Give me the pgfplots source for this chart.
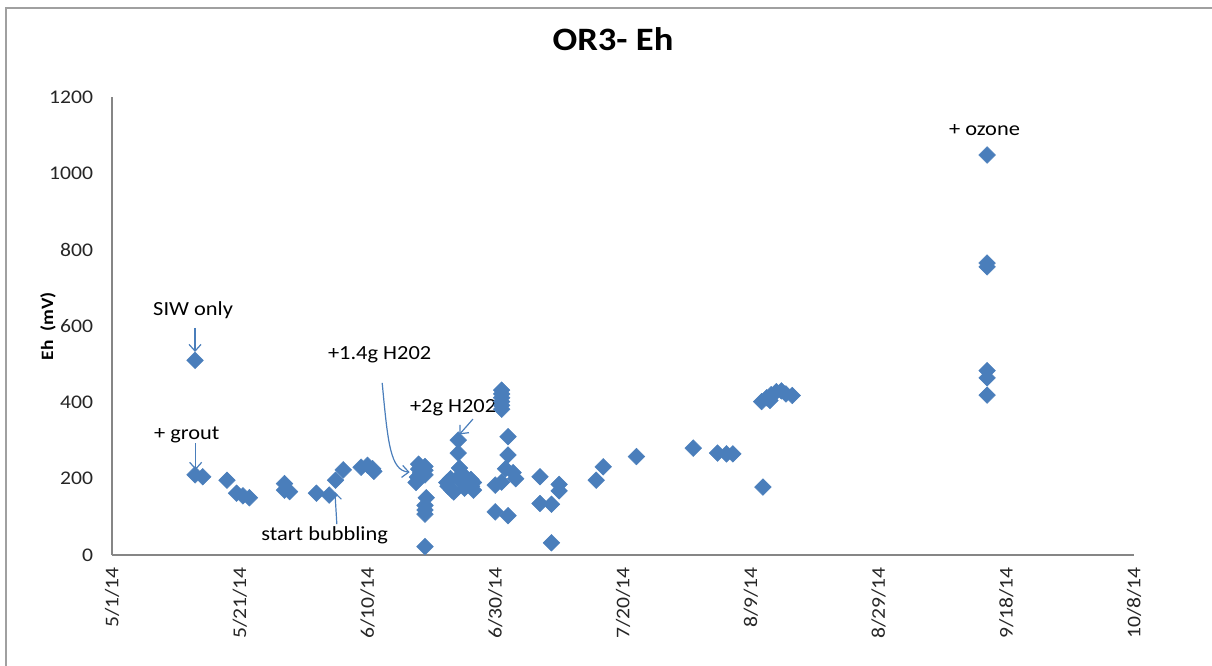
\documentclass[border=0pt]{standalone}
\usepackage{fontspec}
\setmainfont{Carlito}[FakeStretch=1.12]
\usepackage{pgfplots}
\pgfplotsset{compat=1.18}
\usetikzlibrary{arrows.meta}
\definecolor{ptblue}{HTML}{4A7EBB}
\definecolor{axgray}{HTML}{868686}
\definecolor{framegray}{HTML}{A0A0A0}
\begin{document}
\begin{tikzpicture}
\useasboundingbox (-84pt,-82.5pt) rectangle (825pt,416.25pt);
\draw[framegray, line width=1.5pt] (-79.5pt,-90pt) -- (-79.5pt,410.25pt) -- (830pt,410.25pt);
\begin{axis}[
  at={(0pt,0pt)}, anchor=south west,
  scale only axis,
  width=766.5pt, height=343.5pt,
  xmin=0, xmax=160, ymin=0, ymax=1200,
  axis x line=bottom, axis y line=left,
  axis line style={-, axgray, line width=1pt},
  major tick length=0pt,
  xtick={0,20,40,60,80,100,120,140,160},
  xticklabels={5/1/14,5/21/14,6/10/14,6/30/14,7/20/14,8/9/14,8/29/14,9/18/14,10/8/14},
  ytick={0,200,400,600,800,1000,1200},
  /pgf/number format/assume math mode=true,
  /pgf/number format/1000 sep={},
  ticklabel style={font=\fontsize{14.5}{16}\selectfont, text=black!85},
  xticklabel style={yshift=-9pt, rotate=90, anchor=east, inner sep=0pt},
  yticklabel style={xshift=-14pt, anchor=east, inner sep=0pt},
  title={OR3- Eh},
  title style={at={(axis description cs:0.4902,1.1092)}, anchor=center, font=\fontsize{24.5}{28}\selectfont\bfseries},
  ylabel={Eh\ \ (mV)},
  ylabel style={at={(axis description cs:-0.0626,0.5)}, anchor=center, font=\fontsize{13}{15}\selectfont\bfseries},
  clip=false,
]
\addplot[only marks, mark=square*, mark size=4.4pt,
  mark options={rotate=45, fill=ptblue, draw=ptblue}] table {
x y
13 510
13 210
14.2 205
18 196
19.5 162
20.5 155
21.5 150
27 187
27 170
27.8 166
32 162
34 157
35 196
36.2 223
39 230
40 235
40.8 226
41 219
48 238
48 225
48.3 215
47.8 204
47.6 190
49 232
49 222
49 210
49.2 150
49 130
49 118
49 107
49 22
52.6 180
52.4 190
53 200
53.2 170
53.5 165
54.2 301
54.2 267
54.4 228
54.6 210
54.4 195
55.3 205
55.6 185
55.2 175
56.2 198
56.6 190
56.3 180
56.6 170
61 432
61 422
61 412
61 402
61 392
61 382
62 310
62 262
61.6 226
62.8 216
63.2 200
60 183
61 191
60 113
62 103
67 205
67 135
68.8 133
68.8 32
70 185
70 168
75.8 196
76.9 231
82.1 258
91 280
94.8 267
96.2 265
97.2 265
101.9 178
101.7 402
102.5 412
103.2 420
103 405
104 428
104.8 430
105.5 422
106.5 418
137 1048
137 765
137 755
137 483
137 464
137 419
};
\node[font=\fontsize{15}{17}\selectfont] at (axis cs:12.7,642) {SIW only};
\node[font=\fontsize{15}{17}\selectfont] at (axis cs:11.7,314) {+ grout};
\node[font=\fontsize{15}{17}\selectfont] at (axis cs:33.3,52) {start bubbling};
\node[font=\fontsize{15}{17}\selectfont] at (axis cs:41.9,524) {+1.4g H202};
\node[font=\fontsize{15}{17}\selectfont] at (axis cs:53.4,385) {+2g H202};
\node[font=\fontsize{15}{17}\selectfont] at (axis cs:136.6,1113) {+ ozone};
\begin{scope}[ptblue, line width=0.9pt, -{Straight Barb[length=5pt,width=9pt]}]
\draw (axis cs:13,595) -- (axis cs:13,532);
\draw (axis cs:13.1,293) -- (axis cs:13.1,223);
\draw (axis cs:35.2,81) -- (axis cs:34.9,165);
\draw (axis cs:42.3,451) .. controls (axis cs:43.2,290) and (axis cs:43.6,222) .. (axis cs:46.6,217);
\draw (axis cs:56.5,356) -- (axis cs:54.4,316);
\end{scope}
\end{axis}
\end{tikzpicture}
\end{document}
